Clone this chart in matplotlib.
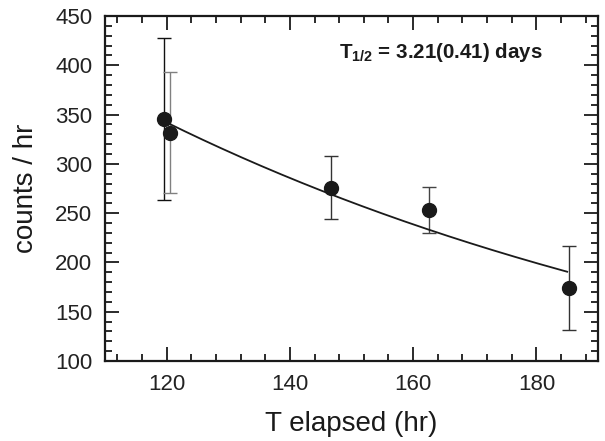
import numpy as np
import matplotlib
matplotlib.use('Agg')
import matplotlib.pyplot as plt
from matplotlib.ticker import MultipleLocator

plt.rcParams['font.family'] = ['Liberation Sans', 'DejaVu Sans']
plt.rcParams['mathtext.fontset'] = 'custom'
plt.rcParams['mathtext.bf'] = 'Liberation Sans:bold'
plt.rcParams['mathtext.rm'] = 'Liberation Sans'

# measured activity
t_hr = [119.6, 120.6, 146.6, 162.5, 185.3]
rate = [345.5, 331.7, 275.9, 253.2, 174.1]
rate_err = [82, 61, 32, 23, 43]
bar_colors = ['#111111', '#808080', '#333333', '#444444', '#333333']

# exponential fit
half_life_days = 3.21
fit_amp = 342.0
fit_t0 = 120.0
fit_t = np.linspace(120.0, 185.0, 200)
fit_rate = fit_amp * np.exp(-np.log(2) * (fit_t - fit_t0) / (half_life_days * 24))

fig = plt.figure(figsize=(6.05, 4.41), dpi=100)
ax = fig.add_axes([105/605, 1 - 361/441, (598-105)/605, (361-16)/441])

for x, y, e, c in zip(t_hr, rate, rate_err, bar_colors):
    ax.errorbar(x, y, yerr=e, fmt='none', ecolor=c, elinewidth=1.0, capsize=5, capthick=1.0)
ax.plot(fit_t, fit_rate, color='#1a1a1a', lw=1.3)
ax.plot(t_hr, rate, 'o', color='#1a1a1a', ms=10, zorder=5)

ax.set_xlim(110, 190)
ax.set_ylim(100, 450)
ax.xaxis.set_major_locator(MultipleLocator(20))
ax.xaxis.set_minor_locator(MultipleLocator(4))
ax.yaxis.set_major_locator(MultipleLocator(50))
ax.yaxis.set_minor_locator(MultipleLocator(10))
ax.tick_params(which='both', direction='in', top=True, right=True, width=1.3, colors='#1a1a1a')
ax.tick_params(which='major', length=10, labelsize=16, pad=9, labelcolor='#222222')
ax.tick_params(which='minor', length=5)
for s in ax.spines.values():
    s.set_linewidth(1.6)
    s.set_color('#1a1a1a')

ax.set_xlabel('T elapsed (hr)', fontsize=20, color='#1a1a1a')
ax.set_ylabel('counts / hr', fontsize=20, color='#1a1a1a')
ax.xaxis.set_label_coords(0.5, -(424 - 361) / 345, transform=ax.transAxes)
ax.xaxis.label.set_va('center')
ax.yaxis.set_label_coords(-(105 - 26) / 493, 0.5, transform=ax.transAxes)
ax.yaxis.label.set_va('center')

ax.text(0.888, 0.893, r'$\mathbf{T}_{\mathbf{1/2}}$ = 3.21(0.41) days', transform=ax.transAxes,
        ha='right', va='center', fontsize=14.8, fontweight='bold', color='#1a1a1a')

fig.savefig('out.png', dpi=100)
